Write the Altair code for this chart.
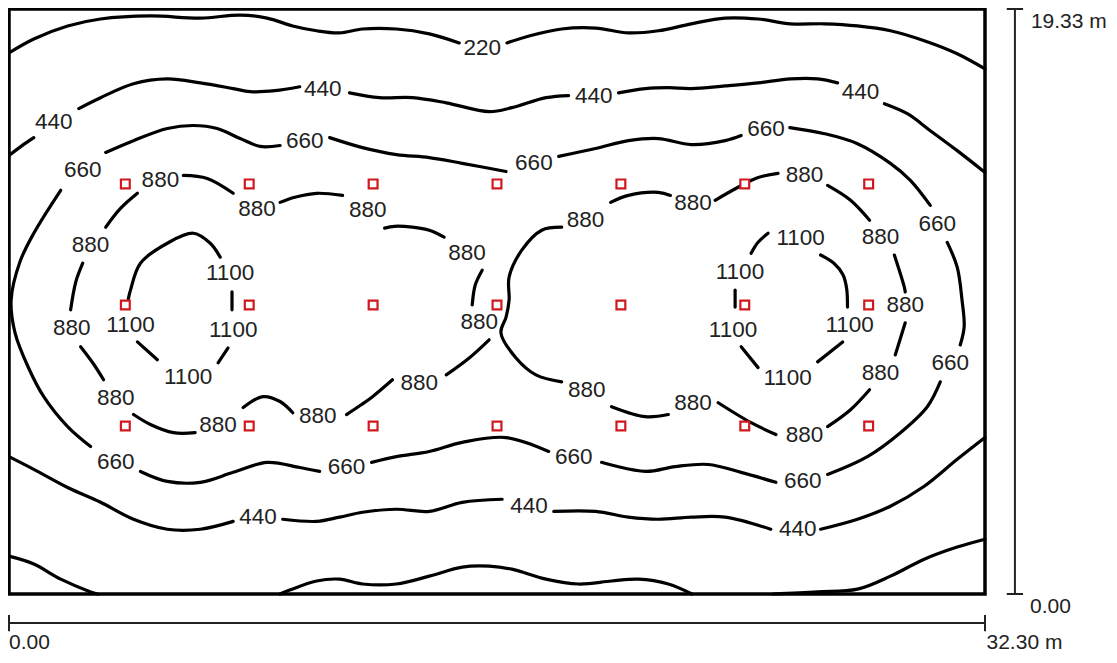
import altair as alt
import pandas as pd

ROOM_W = 32.30
ROOM_H = 19.33

# luminaire grid (m)
lum_x = [3.85, 7.95, 12.05, 16.15, 20.25, 24.35, 28.45]
lum_y = [5.55, 9.55, 13.55]

# isolux contour pieces (m), gaps left where the value labels sit
iso_220 = [
    [(0.0, 17.88), (0.82, 18.34), (1.94, 18.77), (3.03, 19.00), (4.68, 19.10), (6.33, 19.03), (7.65, 19.13),
     (8.54, 19.03), (9.39, 18.77), (10.18, 18.61), (10.94, 18.54), (11.70, 18.67), (12.82, 18.67), (13.91, 18.51),
     (14.90, 18.21)],
    [(16.48, 18.21), (17.21, 18.44), (18.29, 18.67), (19.41, 18.70), (20.50, 18.54), (21.49, 18.61), (22.58, 18.84),
     (23.70, 19.03), (24.79, 19.00), (25.87, 18.84), (26.99, 18.84), (28.08, 18.77), (29.17, 18.61), (30.29, 18.28),
     (31.38, 17.85), (32.30, 17.35)],
    [(0.0, 1.25), (0.82, 0.99), (1.71, 0.49), (2.70, 0.07), (2.93, 0.0)],
    [(8.97, 0.0), (9.29, 0.13), (10.18, 0.43), (10.94, 0.49), (11.70, 0.33), (12.82, 0.33), (13.91, 0.59),
     (15.00, 0.89), (15.89, 0.92), (16.64, 0.82), (17.77, 0.49), (18.85, 0.33), (19.94, 0.43), (20.83, 0.49),
     (21.82, 0.33), (22.60, 0.0)],
    [(25.28, 0.0), (26.76, 0.07), (28.08, 0.16), (29.17, 0.59), (30.29, 1.15), (31.38, 1.55), (32.30, 1.81)],
]

iso_440 = [
    [(0.0, 14.49), (0.41, 14.80), (0.82, 15.08)],
    [(2.31, 16.04), (3.03, 16.40), (4.12, 16.86), (5.24, 17.02), (6.33, 16.89), (7.42, 16.70), (7.98, 16.60),
     (8.80, 16.63), (9.62, 16.76)],
    [(11.27, 16.56), (12.26, 16.40), (13.35, 16.40), (14.47, 16.23), (15.89, 15.94), (16.64, 16.07), (17.77, 16.40),
     (18.52, 16.47)],
    [(20.17, 16.56), (21.06, 16.70), (21.82, 16.73), (22.58, 16.70), (23.70, 16.79), (24.79, 16.89), (25.87, 17.02),
     (26.76, 17.02), (27.42, 16.89)],
    [(28.97, 16.20), (29.73, 15.87), (30.49, 15.31), (31.38, 14.65), (32.30, 13.93)],
    [(0.0, 4.54), (0.82, 4.12), (1.94, 3.52), (3.03, 3.03), (4.12, 2.47), (5.24, 2.14), (6.33, 2.14), (7.42, 2.40)],
    [(9.06, 2.47), (10.18, 2.40), (10.94, 2.54), (11.70, 2.70), (12.82, 2.80), (13.91, 2.73), (15.00, 3.03),
     (16.32, 3.13)],
    [(18.03, 2.73), (19.41, 2.73), (20.50, 2.54), (21.49, 2.47), (22.58, 2.54), (23.70, 2.54), (25.21, 2.14)],
    [(26.86, 2.14), (28.08, 2.47), (29.17, 2.90), (30.29, 3.56), (31.38, 4.45), (32.30, 5.17)],
]

iso_660 = [
    [(2.70, 4.87), (1.94, 5.53), (1.15, 6.52), (0.63, 7.51), (0.20, 8.63), (0.07, 9.71), (0.36, 10.97),
     (0.82, 11.92), (1.71, 13.34)],
    [(3.20, 14.59), (4.12, 14.98), (5.24, 15.38), (6.10, 15.48), (6.89, 15.38), (7.65, 15.05), (8.31, 14.79),
     (8.97, 14.82)],
    [(10.61, 15.08), (11.70, 14.75), (12.82, 14.52), (13.91, 14.42), (15.00, 14.23), (16.45, 13.96)],
    [(18.19, 14.46), (19.41, 14.72), (20.50, 14.98), (21.49, 15.05), (22.58, 14.85), (23.70, 14.98), (24.23, 15.15)],
    [(25.84, 15.41), (26.99, 15.21), (28.08, 14.88), (29.17, 14.23), (29.83, 13.67), (30.49, 12.84)],
    [(31.05, 11.62), (31.38, 10.80), (31.54, 9.71), (31.61, 8.83), (31.48, 8.23)],
    [(30.82, 7.01), (30.39, 6.19), (29.50, 5.33), (28.41, 4.54), (27.09, 3.95)],
    [(25.38, 3.69), (24.23, 4.02), (23.14, 4.28), (22.05, 4.21), (21.06, 4.05), (19.61, 4.35)],
    [(17.86, 4.71), (16.45, 5.17), (15.00, 5.01), (13.91, 4.71), (12.82, 4.54), (12.00, 4.35)],
    [(10.28, 4.05), (9.62, 4.18), (8.54, 4.35), (7.42, 4.02), (6.33, 3.69), (5.24, 3.72), (4.35, 4.05)],
]

iso_880 = [
    [(4.25, 13.24), (3.69, 12.74), (3.20, 12.12)],
    [(2.44, 10.93), (2.21, 10.31), (2.04, 9.39)],
    [(2.37, 8.17), (2.77, 7.64), (3.13, 7.08)],
    [(4.12, 5.93), (4.68, 5.60), (5.44, 5.33), (6.16, 5.33)],
    [(7.75, 6.16), (8.40, 6.52), (8.97, 6.36), (9.39, 5.99)],
    [(11.17, 5.93), (11.67, 6.26), (12.03, 6.52), (12.69, 7.08)],
    [(14.47, 7.24), (15.23, 7.80), (15.89, 8.40)],
    [(15.33, 9.55), (15.43, 10.21), (15.66, 10.70)],
    [(14.40, 11.79), (13.91, 12.02), (13.35, 12.12), (12.76, 12.15), (12.43, 12.09)],
    [(11.04, 13.17), (10.18, 13.24), (9.46, 13.11), (8.97, 12.94)],
    [(7.42, 13.24), (6.56, 13.73), (5.77, 13.83)],
    [(19.91, 12.94), (20.50, 13.17), (21.49, 13.27), (21.89, 13.17)],
    [(23.37, 13.01), (24.13, 13.44), (24.79, 13.76), (25.45, 13.90)],
    [(27.09, 13.50), (27.85, 13.01), (28.48, 12.35)],
    [(29.30, 11.20), (29.63, 10.14), (29.66, 9.98)],
    [(29.66, 8.96), (29.33, 7.90)],
    [(28.48, 6.75), (27.85, 6.09), (27.09, 5.53)],
    [(25.38, 5.27), (24.56, 5.66), (23.47, 6.32)],
    [(21.82, 5.93), (21.06, 5.86), (19.94, 6.19)],
    [(18.29, 7.01), (17.44, 7.24), (16.78, 7.80), (16.28, 8.63), (16.45, 9.15), (16.55, 9.71), (16.55, 10.47),
     (16.97, 11.36), (17.63, 12.02), (18.29, 12.12)],
]

iso_1100 = [
    [(3.95, 9.75), (4.02, 10.04), (4.35, 10.93), (5.24, 11.59), (6.10, 11.92), (6.66, 11.59), (6.99, 11.13)],
    [(7.38, 9.98), (7.38, 9.39)],
    [(7.25, 8.13), (6.92, 7.64)],
    [(4.91, 7.74), (4.25, 8.33)],
    [(25.12, 11.92), (24.79, 11.62), (24.56, 11.26)],
    [(24.03, 10.04), (24.03, 9.48)],
    [(24.23, 8.17), (24.79, 7.48)],
    [(26.76, 7.67), (27.59, 8.33)],
    [(27.75, 9.48), (27.72, 10.10), (27.60, 10.55), (27.30, 10.93), (26.86, 11.20)],
]

# label positions (m)
lbl_220 = [(15.66, 18.05)]
lbl_440 = [(1.48, 15.58), (10.38, 16.70), (19.35, 16.47), (28.18, 16.60), (8.24, 2.54), (17.21, 2.90), (26.10, 2.14)]
lbl_660 = [(3.53, 4.35), (2.44, 14.00), (9.79, 14.98), (17.37, 14.23), (25.05, 15.38), (30.72, 12.22),
           (31.15, 7.64), (26.27, 3.72), (18.69, 4.54), (11.17, 4.18)]
lbl_880 = [(5.01, 13.67), (2.70, 11.53), (2.08, 8.79), (3.53, 6.49), (6.92, 5.60), (10.22, 5.89), (13.58, 6.98),
           (15.56, 8.99), (15.16, 11.26), (11.87, 12.68), (8.21, 12.71),
           (19.08, 12.35), (22.64, 12.91), (26.33, 13.83), (28.84, 11.79), (29.66, 9.55), (28.84, 7.31),
           (26.33, 5.27), (22.64, 6.32), (19.12, 6.75)]
lbl_1100 = [(4.02, 8.89), (7.32, 10.60), (7.42, 8.73), (5.93, 7.18),
            (26.20, 11.76), (24.19, 10.64), (23.96, 8.73), (25.77, 7.15), (27.82, 8.89)]

# ---- build tables ----
line_rows = []
seg_id = 0
for level, pieces in [("220", iso_220), ("440", iso_440), ("660", iso_660), ("880", iso_880), ("1100", iso_1100)]:
    for piece in pieces:
        for i, (px, py) in enumerate(piece):
            line_rows.append({"seg": seg_id, "i": i, "x": px, "y": py, "level": level})
        seg_id += 1
df_lines = pd.DataFrame(line_rows)

label_rows = []
for text, pts in [("220", lbl_220), ("440", lbl_440), ("660", lbl_660), ("880", lbl_880), ("1100", lbl_1100)]:
    for (px, py) in pts:
        label_rows.append({"x": px, "y": py, "text": text})
df_labels = pd.DataFrame(label_rows)

df_lum = pd.DataFrame([{"x": a, "y": b} for a in lum_x for b in lum_y])

# dimension lines (outside the room outline)
DIM_X = ROOM_W + 0.99
DIM_Y = -0.96
TICK = 0.27
df_dim = pd.DataFrame([
    {"x": DIM_X, "y": 0.0, "x2": DIM_X, "y2": ROOM_H},
    {"x": DIM_X - TICK, "y": 0.0, "x2": DIM_X + TICK, "y2": 0.0},
    {"x": DIM_X - TICK, "y": ROOM_H, "x2": DIM_X + TICK, "y2": ROOM_H},
    {"x": 0.0, "y": DIM_Y, "x2": ROOM_W, "y2": DIM_Y},
    {"x": 0.0, "y": DIM_Y - TICK, "x2": 0.0, "y2": DIM_Y + TICK},
    {"x": ROOM_W, "y": DIM_Y - TICK, "x2": ROOM_W, "y2": DIM_Y + TICK},
])
df_dim_txt = pd.DataFrame([
    {"x": DIM_X + 0.53, "y": ROOM_H - 0.43, "text": f"{ROOM_H:.2f} m"},
    {"x": DIM_X + 0.5, "y": -0.43, "text": "0.00"},
    {"x": 0.0, "y": DIM_Y - 0.66, "text": "0.00"},
    {"x": ROOM_W + 0.05, "y": DIM_Y - 0.66, "text": f"{ROOM_W:.2f} m"},
])

xs = alt.Scale(domain=[0, ROOM_W], nice=False, zero=False)
ys = alt.Scale(domain=[0, ROOM_H], nice=False, zero=False)
X = lambda: alt.X("x:Q", scale=xs, axis=None)
Y = lambda: alt.Y("y:Q", scale=ys, axis=None)

lines = alt.Chart(df_lines).mark_line(
    color="black", strokeWidth=3.2, interpolate="catmull-rom", strokeCap="round"
).encode(x=X(), y=Y(), detail="seg:N", order="i:Q")

labels = alt.Chart(df_labels).mark_text(
    font="Liberation Sans", fontSize=22.5, color="#222222", baseline="middle", align="center"
).encode(x=X(), y=Y(), text="text:N")

lums = alt.Chart(df_lum).mark_square(
    size=78, filled=True, fill="white", stroke="#d0191f", strokeWidth=2.2, opacity=1
).encode(x=X(), y=Y())

dims = alt.Chart(df_dim).mark_rule(color="#222222", strokeWidth=2).encode(
    x=X(), y=Y(), x2="x2:Q", y2="y2:Q"
)

dim_txt = alt.Chart(df_dim_txt).mark_text(
    font="Liberation Sans", fontSize=21, color="#222222", baseline="middle", align="left"
).encode(x=X(), y=Y(), text="text:N")

chart = alt.layer(lines, lums, labels, dims, dim_txt).properties(
    width=976, height=585,
    autosize=alt.AutoSizeParams(type="none"),
    padding={"left": 1, "top": 1, "right": 122, "bottom": 60},
    background="white",
).configure_view(stroke="black", strokeWidth=3.5)

chart.save("out.html", embed_options={"renderer": "svg", "actions": False})
